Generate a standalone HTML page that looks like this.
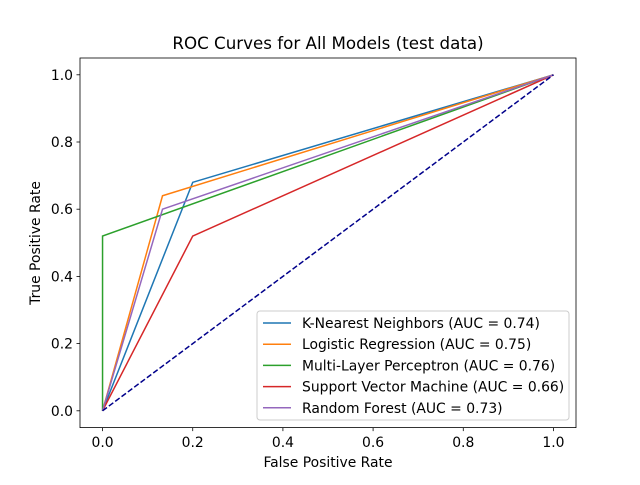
<!DOCTYPE html>
<html><head><meta charset="utf-8"><style>
body{margin:0;background:#fff;font-family:"Liberation Sans","DejaVu Sans",sans-serif}
svg text{font-family:"DejaVu Sans","Liberation Sans",sans-serif}
</style></head><body>
<svg id="chart" width="640" height="480" xmlns="http://www.w3.org/2000/svg">
<rect width="640" height="480" fill="#fff"/>
<text x="328" y="49" font-size="16.7" text-anchor="middle">ROC Curves for All Models (test data)</text>
<g id="plot"></g>
<rect x="80" y="58" width="496" height="369.6" fill="none" stroke="#000" stroke-width="0.8"/>
<text x="328" y="467" font-size="13.9" text-anchor="middle">False Positive Rate</text>
<text transform="translate(40,243) rotate(-90)" font-size="13.9" text-anchor="middle">True Positive Rate</text>
</svg>
<script>
const modelNames=["K-Nearest Neighbors","Logistic Regression","Multi-Layer Perceptron","Support Vector Machine","Random Forest"];
const aucValues=["0.74","0.75","0.76","0.66","0.73"];
const fprKNN=[0,0.2,1], tprKNN=[0,0.68,1];
const fprLR=[0,0.133,1], tprLR=[0,0.64,1];
const fprMLP=[0,0,1], tprMLP=[0,0.52,1];
const fprSVM=[0,0.2,1], tprSVM=[0,0.52,1];
const fprRF=[0,0.133,1], tprRF=[0,0.6,1];
const xTicks=[0,0.2,0.4,0.6,0.8,1.0];
const yTicks=[0,0.2,0.4,0.6,0.8,1.0];
const colors=["#1f77b4","#ff7f0e","#2ca02c","#d62728","#9467bd"];
const NS="http://www.w3.org/2000/svg";
const X=v=>80+(v+0.05)/1.1*496;
const Y=v=>427.6-(v+0.05)/1.1*369.6;
const g=document.getElementById('plot');
function mk(t,a,p){const e=document.createElementNS(NS,t);for(const k in a)e.setAttribute(k,a[k]);(p||g).appendChild(e);return e;}
xTicks.forEach(t=>{
 const l=mk('line',{x1:X(t),x2:X(t),y1:427.6,y2:431.1,stroke:'#000','stroke-width':0.8});
 
 
 const s=mk('text',{x:X(t),y:447,'font-size':13.9,'text-anchor':'middle'});s.textContent=t.toFixed(1);
 
 
});
yTicks.forEach(t=>{
 const l=mk('line',{x1:76.5,x2:80,y1:Y(t),y2:Y(t),stroke:'#000','stroke-width':0.8});
 
 
 const s=mk('text',{x:73,y:Y(t)+5,'font-size':13.9,'text-anchor':'end'});s.textContent=t.toFixed(1);
 
 
});
const series=[[fprKNN,tprKNN],[fprLR,tprLR],[fprMLP,tprMLP],[fprSVM,tprSVM],[fprRF,tprRF]];
series.forEach((s,i)=>{
 const p=mk('polyline',{points:s[0].map((x,j)=>X(x)+','+Y(s[1][j])).join(' '),fill:'none',stroke:colors[i],'stroke-width':1.5});
 
 
});
const d=mk('line',{x1:X(0),y1:Y(0),x2:X(1),y2:Y(1),stroke:'#00008b','stroke-width':1.5,'stroke-dasharray':'5.5,2.4'});


const lg=mk('rect',{x:257,y:311,width:312,height:109,rx:3,fill:'#fff','fill-opacity':0.8,stroke:'#ccc','stroke-width':1});


modelNames.forEach((n,i)=>{
 const y=323+i*21.2;
 const l=mk('line',{x1:263,x2:291,y1:y,y2:y,stroke:colors[i],'stroke-width':1.5});
 
 
 const t=mk('text',{x:302,y:y+5,'font-size':13.9});t.textContent=n+' (AUC = '+aucValues[i]+')';
 
 
});
</script>
</body></html>
